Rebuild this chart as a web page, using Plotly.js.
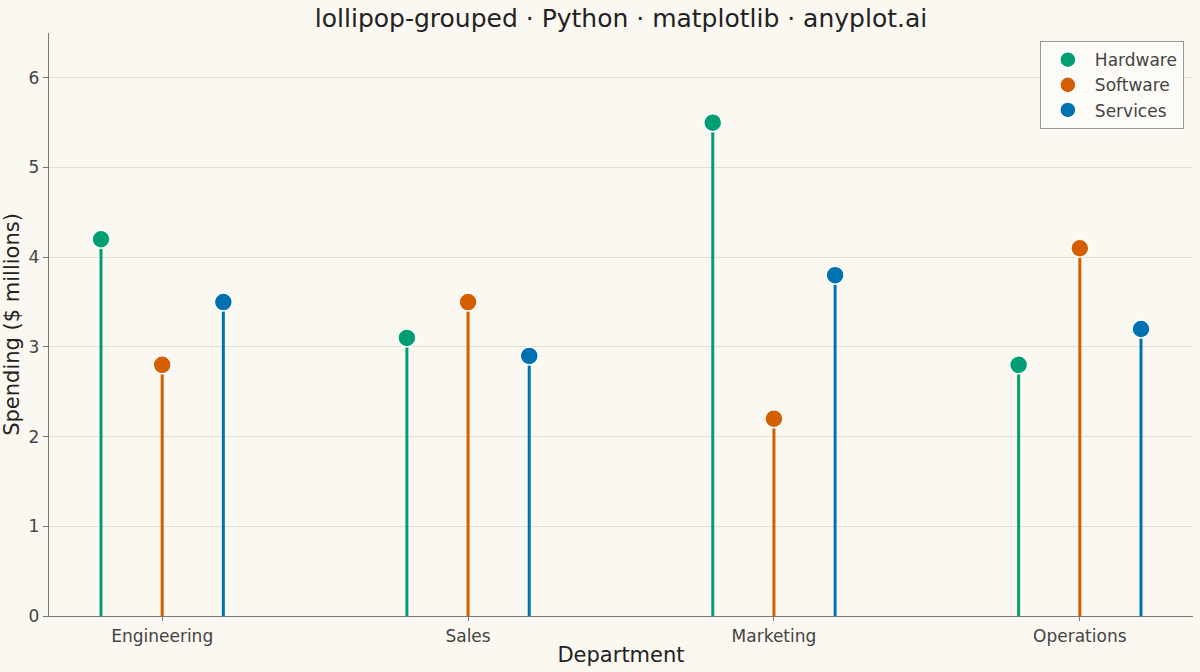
<!DOCTYPE html>
<html>
<head>
<meta charset="utf-8">
<script src="https://cdn.plot.ly/plotly-3.0.1.min.js"></script>
<style>
  body { margin: 0; background: #FAF8F1; }
  #chart { width: 1200px; height: 672px; }
</style>
</head>
<body>
<div id="chart"></div>
<script>
var departments = ['Engineering', 'Sales', 'Marketing', 'Operations'];
var hardware = [4.2, 3.1, 5.5, 2.8];
var software = [2.8, 3.5, 2.2, 4.1];
var services = [3.5, 2.9, 3.8, 3.2];

var series = [
  { name: 'Hardware', values: hardware, color: '#009E73', offset: -0.2 },
  { name: 'Software', values: software, color: '#D55E00', offset: 0 },
  { name: 'Services', values: services, color: '#0072B2', offset: 0.2 }
];

var traces = [];

// stems first, so the dots sit on top
series.forEach(function (s) {
  var xs = [], ys = [];
  s.values.forEach(function (v, i) {
    xs.push(i + s.offset, i + s.offset, null);
    ys.push(0, v, null);
  });
  traces.push({
    x: xs, y: ys, mode: 'lines', type: 'scatter',
    line: { color: s.color, width: 3 },
    showlegend: false, hoverinfo: 'skip'
  });
});

series.forEach(function (s) {
  traces.push({
    x: s.values.map(function (v, i) { return i + s.offset; }),
    y: s.values,
    name: s.name,
    mode: 'markers', type: 'scatter',
    marker: { color: s.color, size: 18, line: { color: '#FFFFFF', width: 1.5 } }
  });
});

var layout = {
  width: 1200, height: 672,
  paper_bgcolor: '#FAF8F1',
  plot_bgcolor: '#FAF8F1',
  font: { family: 'DejaVu Sans', color: '#444444', size: 16 },
  margin: { l: 49, r: 7, t: 33, b: 56 },
  title: {
    text: 'lollipop-grouped · Python · matplotlib · anyplot.ai',
    font: { size: 25, color: '#222222' },
    x: 0.5175, xanchor: 'center', y: 0.973, yanchor: 'middle'
  },
  xaxis: {
    range: [-0.37, 3.37],
    tickvals: [0, 1, 2, 3],
    ticktext: departments,
    showgrid: false, zeroline: false,
    showline: true, linecolor: '#777777', linewidth: 1.2,
    ticks: 'outside', ticklen: 4, tickcolor: '#777777',
    tickfont: { size: 17, color: '#444444' },
    title: { text: 'Department', font: { size: 21, color: '#222222' }, standoff: 2 }
  },
  yaxis: {
    range: [0, 6.5],
    tickvals: [0, 1, 2, 3, 4, 5, 6],
    showgrid: true, gridcolor: '#E2DFD8', gridwidth: 1,
    zeroline: false,
    showline: true, linecolor: '#777777', linewidth: 1.2,
    ticks: 'outside', ticklen: 5, tickcolor: '#777777',
    tickfont: { size: 17, color: '#444444' },
    title: { text: 'Spending ($ millions)', font: { size: 21, color: '#222222' }, standoff: 6 }
  },
  legend: {
    x: 0.992, xanchor: 'right', y: 0.986, yanchor: 'top',
    bgcolor: '#FCFBF7', bordercolor: '#999999', borderwidth: 1,
    font: { size: 17, color: '#444444' },
    itemwidth: 44, tracegroupgap: 0
  },
  showlegend: true
};

Plotly.newPlot('chart', traces, layout, { displayModeBar: false, staticPlot: true });
</script>
</body>
</html>
